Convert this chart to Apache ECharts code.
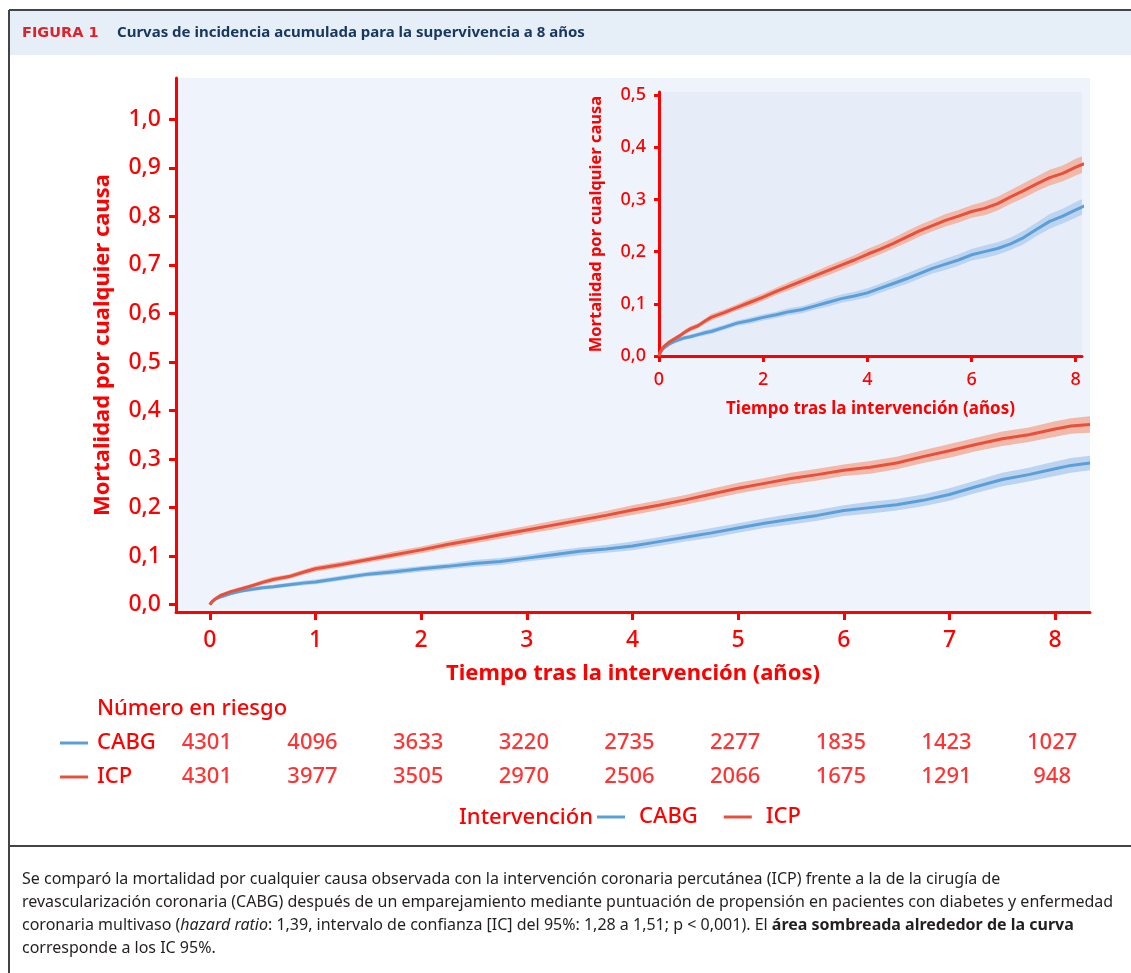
<!DOCTYPE html>
<html>
<head>
<meta charset="utf-8">
<script src="https://cdn.jsdelivr.net/npm/echarts@6/dist/echarts.min.js"></script>
<style>
html,body{margin:0;padding:0;background:#fff;}
#chart{width:1131px;height:973px;}
</style>
</head>
<body>
<div id="chart"></div>
<script>
// ---- data ----
var times = [0, 0.02, 0.05, 0.1, 0.2, 0.3, 0.4, 0.5, 0.6, 0.75, 0.9, 1.0,
  1.25, 1.5, 1.75, 2.0, 2.25, 2.5, 2.75, 3.0, 3.25, 3.5, 3.75, 4.0,
  4.25, 4.5, 4.75, 5.0, 5.25, 5.5, 5.75, 6.0, 6.25, 6.5, 6.75, 7.0,
  7.25, 7.5, 7.75, 8.0, 8.15, 8.33];
var icpMort = [0, 0.006, 0.012, 0.019, 0.027, 0.033, 0.039, 0.046, 0.052, 0.058, 0.068, 0.074,
  0.083, 0.093, 0.103, 0.113, 0.124, 0.134, 0.144, 0.154, 0.164, 0.174, 0.184, 0.195,
  0.205, 0.216, 0.228, 0.24, 0.25, 0.26, 0.268, 0.277, 0.283, 0.292, 0.305, 0.317,
  0.33, 0.342, 0.35, 0.362, 0.368, 0.371];
var cabgMort = [0, 0.006, 0.011, 0.016, 0.023, 0.028, 0.032, 0.035, 0.037, 0.041, 0.045, 0.047,
  0.055, 0.063, 0.068, 0.074, 0.079, 0.085, 0.089, 0.096, 0.103, 0.11, 0.115, 0.121,
  0.13, 0.139, 0.148, 0.158, 0.168, 0.176, 0.184, 0.194, 0.2, 0.206, 0.215, 0.227,
  0.243, 0.258, 0.268, 0.28, 0.287, 0.292];
var icpCiHalf = [0, 0.002, 0.003, 0.003, 0.004, 0.004, 0.004, 0.005, 0.005, 0.005, 0.005, 0.006,
  0.006, 0.006, 0.007, 0.007, 0.007, 0.008, 0.008, 0.008, 0.009, 0.009, 0.009, 0.01,
  0.01, 0.01, 0.011, 0.011, 0.011, 0.012, 0.012, 0.012, 0.013, 0.013, 0.013, 0.014,
  0.014, 0.015, 0.015, 0.016, 0.016, 0.017];
var cabgCiHalf = [0, 0.002, 0.002, 0.003, 0.003, 0.003, 0.004, 0.004, 0.004, 0.004, 0.005, 0.005,
  0.005, 0.005, 0.006, 0.006, 0.006, 0.007, 0.007, 0.007, 0.008, 0.008, 0.008, 0.009,
  0.009, 0.009, 0.01, 0.01, 0.01, 0.011, 0.011, 0.011, 0.012, 0.012, 0.012, 0.013,
  0.013, 0.014, 0.014, 0.015, 0.015, 0.015];

var riskTimes = [0, 1, 2, 3, 4, 5, 6, 7, 8];
var cabgRisk = [4301, 4096, 3633, 3220, 2735, 2277, 1835, 1423, 1027];
var icpRisk  = [4301, 3977, 3505, 2970, 2506, 2066, 1675, 1291, 948];
var riskRows = ['CABG', 'ICP'];

var mainXTicks = [0, 1, 2, 3, 4, 5, 6, 7, 8];
var mainYTicks = [0, 0.1, 0.2, 0.3, 0.4, 0.5, 0.6, 0.7, 0.8, 0.9, 1.0];
var insetXTicks = [0, 2, 4, 6, 8];
var insetYTicks = [0, 0.1, 0.2, 0.3, 0.4, 0.5];

// ---- styles ----
var RED = '#ff0000';
var ICP_LINE = '#e8503c', ICP_BAND = '#f0b9a9';
var CABG_LINE = '#5b9fd8', CABG_BAND = '#bcd4f0';
var FONT = '"Noto Sans", "DejaVu Sans", sans-serif';
var W = 500;

function pairs(ys) { return times.map(function (t, i) { return [t, ys[i]]; }); }
function comma(v) { return v.toFixed(1).replace('.', ','); }

function bandSeries(name, ys, half, color, xi) {
  return {
    type: 'custom', name: name + ' IC', xAxisIndex: xi, yAxisIndex: xi,
    coordinateSystem: 'cartesian2d', clip: true, silent: true, z: 1,
    data: [[times[0], ys[0]]],
    renderItem: function (params, api) {
      var up = [], lo = [];
      for (var i = 0; i < times.length; i++) {
        up.push(api.coord([times[i], ys[i] + half[i]]));
        lo.unshift(api.coord([times[i], Math.max(0, ys[i] - half[i])]));
      }
      return {
        type: 'polygon',
        shape: { points: up.concat(lo) },
        style: { fill: color, stroke: null }
      };
    }
  };
}
function lineSeries(name, ys, color, xi, w) {
  return {
    type: 'line', name: name, xAxisIndex: xi, yAxisIndex: xi,
    data: pairs(ys), symbol: 'none', smooth: false, z: 3, clip: true,
    lineStyle: { color: color, width: w }, itemStyle: { color: color }
  };
}
function riskSeries(row, vals) {
  return {
    type: 'scatter', xAxisIndex: 2, yAxisIndex: 2, silent: true,
    data: riskTimes.map(function (t, i) { return [t, row, vals[i]]; }),
    symbolSize: 1, itemStyle: { color: 'rgba(0,0,0,0)' },
    label: {
      show: true, position: 'inside', offset: [-3, 0],
      formatter: function (p) { return String(p.value[2]); },
      color: RED, fontSize: 22, fontWeight: W, fontFamily: FONT
    }
  };
}

var chart = echarts.init(document.getElementById('chart'), null, { renderer: 'canvas' });

var axisLineMain = { show: true, onZero: false, lineStyle: { color: RED, width: 3 } };

var option = {
  animation: false,
  backgroundColor: '#ffffff',
  textStyle: { fontFamily: FONT },
  grid: [
    { left: 176, top: 78, width: 914, height: 534, show: true, backgroundColor: '#eff3fc', borderWidth: 0 },
    { left: 659, top: 92, width: 423, height: 264, show: true, backgroundColor: '#e6edf8', borderWidth: 0, z: 5 },
    { left: 176, top: 726, width: 914, height: 68, show: false }
  ],
  xAxis: [
    {
      type: 'value', gridIndex: 0, min: -0.32, max: 8.33,
      axisLine: axisLineMain, splitLine: { show: false },
      axisTick: { show: true, customValues: mainXTicks, length: 8, lineStyle: { color: RED, width: 3 } },
      axisLabel: { customValues: mainXTicks, color: RED, fontSize: 23, fontWeight: W, margin: 17, fontFamily: FONT },
      name: 'Tiempo tras la intervención (años)', nameLocation: 'middle', nameGap: 51,
      nameTextStyle: { color: RED, fontSize: 22, fontWeight: 'bold', fontFamily: FONT }
    },
    {
      type: 'value', gridIndex: 1, min: 0, max: 8.12, z: 6,
      axisLine: axisLineMain, splitLine: { show: false },
      axisTick: { show: true, customValues: insetXTicks, length: 6, lineStyle: { color: RED, width: 3 } },
      axisLabel: { customValues: insetXTicks, color: RED, fontSize: 18, fontWeight: W, margin: 15, fontFamily: FONT },
      name: 'Tiempo tras la intervención (años)', nameLocation: 'middle', nameGap: 45,
      nameTextStyle: { color: RED, fontSize: 17, fontWeight: 'bold', fontFamily: FONT }
    },
    { type: 'value', gridIndex: 2, min: -0.32, max: 8.33, show: false }
  ],
  yAxis: [
    {
      type: 'value', gridIndex: 0, min: -0.015, max: 1.085,
      axisLine: axisLineMain, splitLine: { show: false },
      axisTick: { show: true, customValues: mainYTicks, length: 7, lineStyle: { color: RED, width: 3 } },
      axisLabel: { customValues: mainYTicks, color: RED, fontSize: 23, fontWeight: W, margin: 15, fontFamily: FONT, formatter: comma },
      name: 'Mortalidad por cualquier causa', nameLocation: 'middle', nameGap: 62,
      nameTextStyle: { color: RED, fontSize: 22, fontWeight: 'bold', fontFamily: FONT }
    },
    {
      type: 'value', gridIndex: 1, min: 0, max: 0.506, z: 6,
      axisLine: axisLineMain, splitLine: { show: false },
      axisTick: { show: true, customValues: insetYTicks, length: 5, lineStyle: { color: RED, width: 3 } },
      axisLabel: { customValues: insetYTicks, color: RED, fontSize: 18, fontWeight: W, margin: 13, fontFamily: FONT, formatter: comma },
      name: 'Mortalidad por cualquier causa', nameLocation: 'middle', nameGap: 54,
      nameTextStyle: { color: RED, fontSize: 16.5, fontWeight: 'bold', fontFamily: FONT }
    },
    { type: 'category', gridIndex: 2, data: riskRows, inverse: true, show: false }
  ],
  legend: {
    data: ['CABG', 'ICP'], left: 597, top: 806, padding: 0, icon: 'rect', itemWidth: 28, itemHeight: 3, itemGap: 26,
    selectedMode: false,
    textStyle: { color: RED, fontSize: 22, fontWeight: W, fontFamily: FONT, padding: [0, 0, 0, 9] }
  },
  series: [
    bandSeries('CABG', cabgMort, cabgCiHalf, CABG_BAND, 0),
    bandSeries('ICP', icpMort, icpCiHalf, ICP_BAND, 0),
    lineSeries('CABG', cabgMort, CABG_LINE, 0, 3),
    lineSeries('ICP', icpMort, ICP_LINE, 0, 3),
    Object.assign(bandSeries('CABG', cabgMort, cabgCiHalf, CABG_BAND, 1), { z: 7 }),
    Object.assign(bandSeries('ICP', icpMort, icpCiHalf, ICP_BAND, 1), { z: 7 }),
    Object.assign(lineSeries('CABG', cabgMort, CABG_LINE, 1, 3), { z: 8 }),
    Object.assign(lineSeries('ICP', icpMort, ICP_LINE, 1, 3), { z: 8 }),
    riskSeries('CABG', cabgRisk),
    riskSeries('ICP', icpRisk)
  ],
  graphic: [
    { type: 'rect', shape: { x: 9, y: 10, width: 1130, height: 45 }, style: { fill: '#e6eef8' }, z: 0 },
    { type: 'line', shape: { x1: 9, y1: 10, x2: 1131, y2: 10 }, style: { stroke: '#444', lineWidth: 2 }, z: 1 },
    { type: 'line', shape: { x1: 9, y1: 10, x2: 9, y2: 973 }, style: { stroke: '#444', lineWidth: 2 }, z: 1 },
    { type: 'line', shape: { x1: 9, y1: 846, x2: 1131, y2: 846 }, style: { stroke: '#444', lineWidth: 2 }, z: 1 },
    { type: 'text', x: 22, y: 33, style: { text: 'FIGURA 1', fill: '#e2202a', font: 'bold 14.5px "DejaVu Sans", sans-serif', textVerticalAlign: 'middle' }, z: 2 },
    { type: 'text', x: 117, y: 33, style: { text: 'Curvas de incidencia acumulada para la supervivencia a 8 años', fill: '#17375e', font: 'bold 15px "Noto Sans", sans-serif', textVerticalAlign: 'middle' }, z: 2 },
    { type: 'text', x: 97, y: 709, style: { text: 'Número en riesgo', fill: RED, font: W + ' 22px "Noto Sans", sans-serif', textVerticalAlign: 'middle' }, z: 2 },
    { type: 'line', shape: { x1: 60, y1: 743, x2: 88, y2: 743 }, style: { stroke: CABG_LINE, lineWidth: 3 }, z: 2 },
    { type: 'text', x: 97, y: 743, style: { text: 'CABG', fill: RED, font: W + ' 22px "Noto Sans", sans-serif', textVerticalAlign: 'middle' }, z: 2 },
    { type: 'line', shape: { x1: 60, y1: 777, x2: 88, y2: 777 }, style: { stroke: ICP_LINE, lineWidth: 3 }, z: 2 },
    { type: 'text', x: 97, y: 777, style: { text: 'ICP', fill: RED, font: W + ' 22px "Noto Sans", sans-serif', textVerticalAlign: 'middle' }, z: 2 },
    { type: 'text', x: 593, y: 818, style: { text: 'Intervención', fill: RED, font: W + ' 22px "Noto Sans", sans-serif', textVerticalAlign: 'middle', textAlign: 'right' }, z: 2 },
    {
      type: 'text', x: 22, y: 868, z: 2,
      style: {
        text: 'Se comparó la mortalidad por cualquier causa observada con la intervención coronaria percutánea (ICP) frente a la de la cirugía de\n' +
              'revascularización coronaria (CABG) después de un emparejamiento mediante puntuación de propensión en pacientes con diabetes y enfermedad\n' +
              'coronaria multivaso ({i|hazard ratio}: 1,39, intervalo de confianza [IC] del 95%: 1,28 a 1,51; p < 0,001). El {b|área sombreada alrededor de la curva}\n' +
              'corresponde a los IC 95%.',
        fill: '#231f20', fontSize: 16, fontFamily: FONT, lineHeight: 23,
        rich: {
          i: { fontStyle: 'italic', fontSize: 16, fontFamily: FONT, fill: '#231f20', lineHeight: 23 },
          b: { fontWeight: 'bold', fontSize: 16, fontFamily: FONT, fill: '#231f20', lineHeight: 23 }
        }
      }
    }
  ]
};
chart.setOption(option);
</script>
</body>
</html>
